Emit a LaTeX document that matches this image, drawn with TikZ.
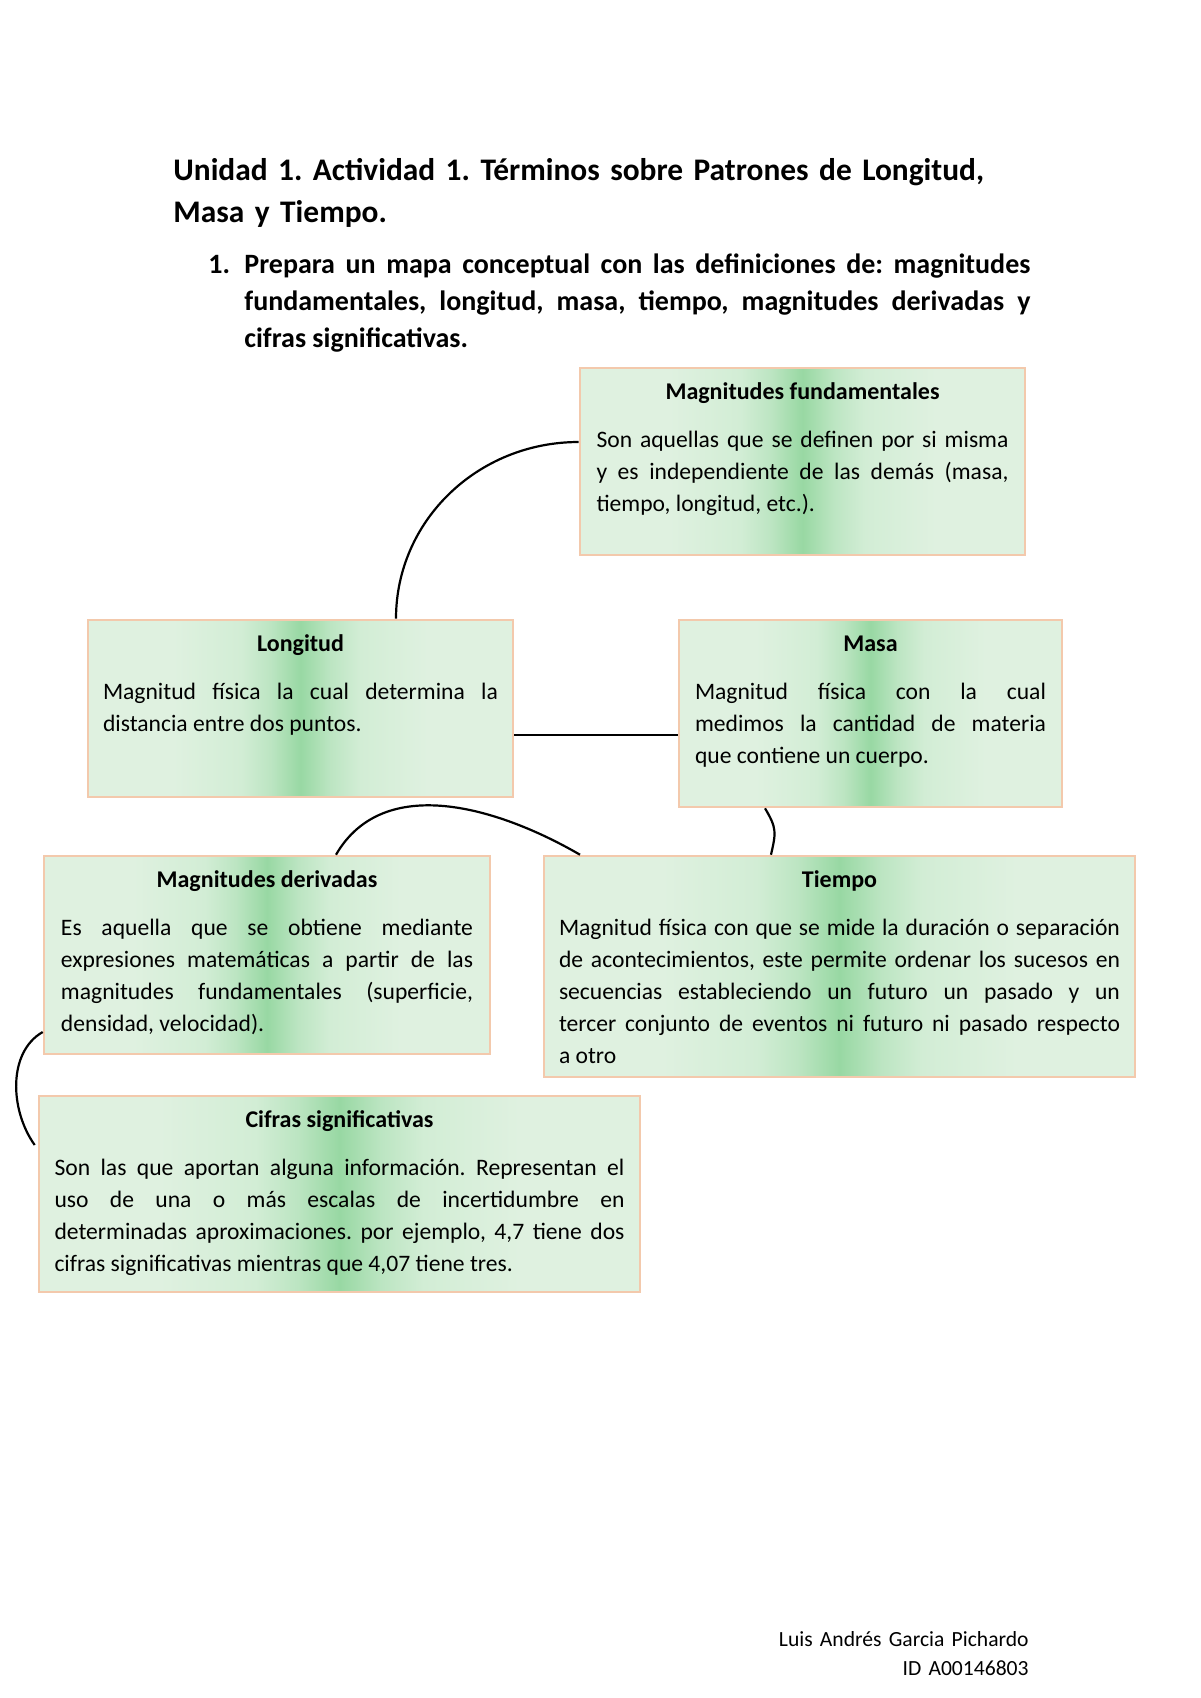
\documentclass[tikz,border=0pt]{standalone}
\usepackage{fontspec}
\setmainfont{Carlito}
\definecolor{boxlight}{HTML}{DFF1E0}
\definecolor{boxhaze}{HTML}{D2EDD5}
\definecolor{boxsoft}{HTML}{BCE5C2}
\definecolor{boxmid}{HTML}{98D8A3}
\definecolor{boxedge}{HTML}{F3C9AC}
\pgfdeclarehorizontalshading{boxshade}{100bp}{color(0bp)=(boxlight); color(35bp)=(boxlight); color(43bp)=(boxhaze); color(46.5bp)=(boxsoft); color(50bp)=(boxmid); color(53.5bp)=(boxsoft); color(57bp)=(boxhaze); color(65bp)=(boxlight); color(100bp)=(boxlight)}
\tolerance=10000
\hbadness=10000
\hyphenpenalty=10000
\frenchspacing

\begin{document}
\begin{tikzpicture}[x=0.5pt,y=-0.5pt,
        conbox/.style={draw=boxedge,line width=1.3pt,shade,shading=boxshade},
        boxtxt/.style={text width=#1,align=justify,inner sep=0pt,anchor=base,font=\fontsize{11.8}{16}\selectfont},
        boxhead/.style={font=\fontsize{12}{16}\selectfont\bfseries},
        link/.style={line width=1.1pt,black}]
            \useasboundingbox[fill=white] (0,0) rectangle (1200,1698);
            \node[text width=420pt,inner sep=0pt,anchor=base west,font=\fontsize{15.7}{21}\selectfont\bfseries] (title) at (173,180)
                {Unidad 1. Actividad 1. Términos sobre Patrones de Longitud,\\Masa y Tiempo.};
            \node[inner sep=0pt,anchor=base west,font=\fontsize{14}{18.5}\selectfont\bfseries] (num) at (208,273) {1.};
            \node[text width=393pt,align=justify,inner sep=0pt,anchor=base west,font=\fontsize{14}{18.5}\selectfont\bfseries] (task) at (244,273)
                {Prepara un mapa conceptual con las definiciones de: magnitudes\linebreak fundamentales, longitud, masa, tiempo, magnitudes derivadas y\linebreak cifras significativas.};

            \node[conbox,minimum width=222.5pt,minimum height=93.5pt] (mf) at (802.5,461.5) {};
            \node[conbox,minimum width=212.5pt,minimum height=88.5pt] (long) at (300.5,708.5) {};
            \node[conbox,minimum width=191.5pt,minimum height=93.5pt] (masa) at (870.5,713.5) {};
            \node[conbox,minimum width=223pt,minimum height=99pt] (der) at (267,955) {};
            \node[conbox,minimum width=295.5pt,minimum height=110.5pt] (tiempo) at (839.5,966.5) {};
            \node[conbox,minimum width=300.5pt,minimum height=98pt] (cifras) at (339.5,1194) {};

            \node[boxtxt=206pt] (mftxt) at ([yshift=-16.6pt]mf.north)
                {{\centering\fontsize{12}{16}\selectfont\bfseries Magnitudes fundamentales\par}\vspace{8pt}Son aquellas que se definen por si misma\linebreak y es independiente de las demás (masa,\linebreak tiempo, longitud, etc.).};
            \node[boxtxt=197.5pt] (longtxt) at ([yshift=-16.6pt]long.north)
                {{\centering\fontsize{12}{16}\selectfont\bfseries Longitud\par}\vspace{8pt}Magnitud física la cual determina la\linebreak distancia entre dos puntos.};
            \node[boxtxt=175.5pt] (masatxt) at ([yshift=-16.6pt]masa.north)
                {{\centering\fontsize{12}{16}\selectfont\bfseries Masa\par}\vspace{8pt}Magnitud física con la cual\linebreak medimos la cantidad de materia\linebreak que contiene un cuerpo.};
            \node[boxtxt=206pt] (dertxt) at ([yshift=-16.6pt]der.north)
                {{\centering\fontsize{12}{16}\selectfont\bfseries Magnitudes derivadas\par}\vspace{8pt}Es aquella que se obtiene mediante\linebreak expresiones matemáticas a partir de las\linebreak magnitudes fundamentales (superficie,\linebreak densidad, velocidad).};
            \node[boxtxt=280.5pt] (tiempotxt) at ([yshift=-16.6pt]tiempo.north)
                {{\centering\fontsize{12}{16}\selectfont\bfseries Tiempo\par}\vspace{8pt}Magnitud física con que se mide la duración o separación\linebreak de acontecimientos, este permite ordenar los sucesos en\linebreak secuencias estableciendo un futuro un pasado y un\linebreak tercer conjunto de eventos ni futuro ni pasado respecto\linebreak a otro};
            \node[boxtxt=285pt] (cifrastxt) at ([yshift=-16.6pt]cifras.north)
                {{\centering\fontsize{12}{16}\selectfont\bfseries Cifras significativas\par}\vspace{8pt}Son las que aportan alguna información. Representan el\linebreak uso de una o más escalas de incertidumbre en\linebreak determinadas aproximaciones. por ejemplo, 4,7 tiene dos\linebreak cifras significativas mientras que 4,07 tiene tres.};

            \coordinate (lm) at ([yshift=-13.25pt]long.east);
            \draw[link] ([yshift=9.75pt]mf.west) .. controls +(-101,0) and +(0,-98) .. ([xshift=47.75pt]long.north);
            \draw[link] (lm) -- (lm -| masa.west);
            \draw[link] ([xshift=34.5pt]der.north) .. controls +(47.5,-82) and +(-82,-47.5) .. ([xshift=-129.75pt]tiempo.north);
            \draw[link] ([xshift=-52.75pt]masa.south) .. controls +(12,20) and +(5,-22) .. ([xshift=-34.25pt]tiempo.north);
            \draw[link] ([yshift=-38.5pt]der.west) .. controls +(-35,20) and +(-25,-35) .. ([xshift=-1.5pt,yshift=24.5pt]cifras.west);

            \node[text width=200pt,align=right,inner sep=0pt,anchor=base east,font=\fontsize{10.8}{14.5}\selectfont] (autor) at (1029,1646)
                {Luis Andrés Garcia Pichardo\\ID A00146803};
        \end{tikzpicture}
\end{document}
